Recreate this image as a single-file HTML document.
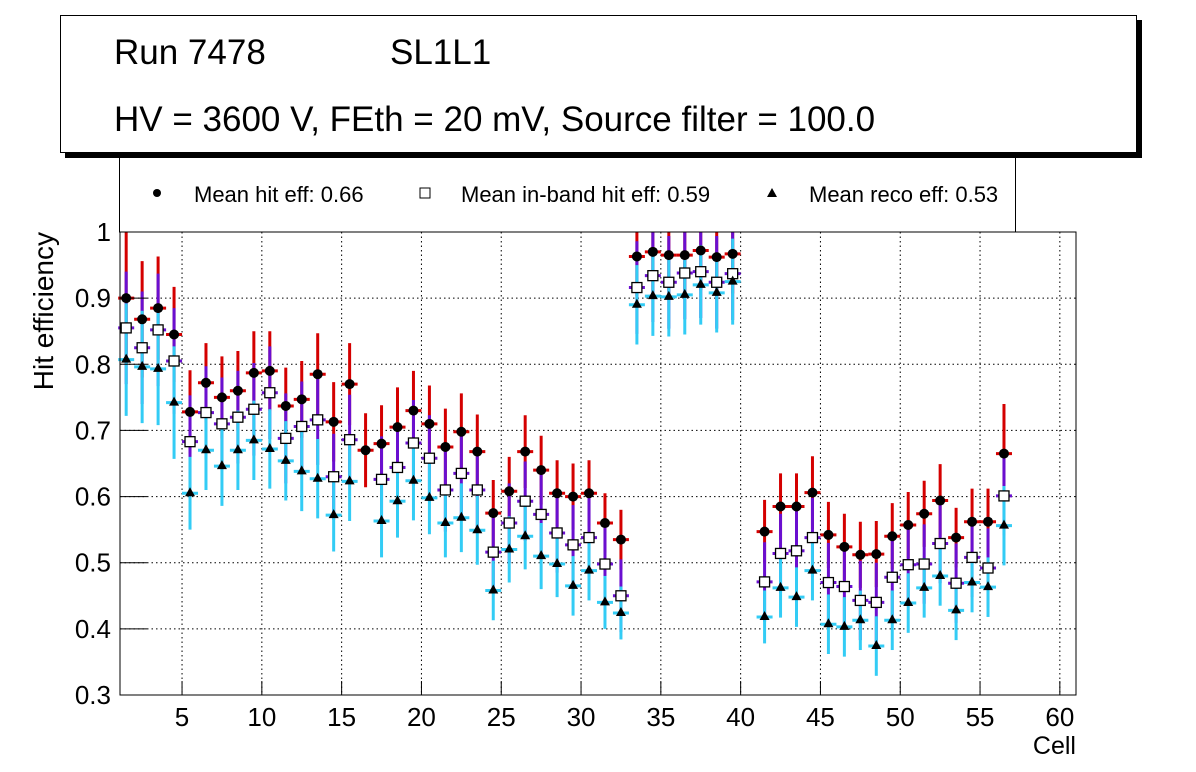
<!DOCTYPE html>
<html><head><meta charset="utf-8"><style>
body{margin:0;background:#fff;}
svg{display:block;font-family:"Liberation Sans",sans-serif;}
</style></head><body>
<svg id="c" width="1196" height="772" viewBox="0 0 1196 772">
<rect x="0" y="0" width="1196" height="772" fill="#fff"/>
<g id="grid"></g>
<g id="series"></g>
<rect x="120" y="232" width="956" height="463" fill="none" stroke="#000" stroke-width="1"/>
<g id="axes"></g>
<text x="1076" y="754" font-size="25" text-anchor="end">Cell</text>
<text transform="translate(53,232) rotate(-90)" font-size="28" text-anchor="end">Hit efficiency</text>
<g>
<rect x="119.5" y="150" width="896" height="82" fill="#fff" stroke="#000" stroke-width="1"/>
<circle cx="157" cy="193" r="4" fill="#000"/>
<text x="194" y="202" font-size="22">Mean hit  eff: 0.66</text>
<rect x="420" y="188" width="10" height="10" fill="#fff" stroke="#000"/>
<text x="461" y="202" font-size="22">Mean in-band hit eff: 0.59</text>
<polygon points="772,188 777,197 767,197" fill="#000"/>
<text x="809" y="202" font-size="22">Mean reco eff: 0.53</text>
</g>
<g>
<rect x="65" y="20" width="1077" height="138" fill="#000"/>
<rect x="60.5" y="15.5" width="1076" height="137" fill="#fff" stroke="#000" stroke-width="1"/>
<text x="114" y="64" font-size="35">Run 7478</text>
<text x="390" y="64" font-size="35">SL1L1</text>
<text x="114" y="131" font-size="35">HV = 3600 V, FEth = 20 mV, Source filter = 100.0</text>
</g>
</svg>
<script>
const cells=[1,2,3,4,5,6,7,8,9,10,11,12,13,14,15,16,17,18,19,20,21,22,23,24,25,26,27,28,29,30,31,32,33,34,35,36,37,38,39,41,42,43,44,45,46,47,48,49,50,51,52,53,54,55,56];
const hitEff=[.90,.868,.885,.845,.728,.772,.75,.76,.787,.79,.737,.747,.785,.713,.77,.67,.68,.705,.73,.71,.675,.698,.668,.575,.608,.668,.64,.605,.60,.605,.56,.535,.963,.97,.965,.965,.972,.962,.967,.547,.585,.585,.606,.542,.524,.512,.513,.54,.557,.574,.594,.538,.562,.562,.665];
const inbandEff=[.855,.825,.852,.805,.683,.727,.71,.72,.732,.757,.688,.706,.716,.63,.686,null,.626,.644,.681,.658,.61,.635,.61,.516,.56,.593,.573,.545,.527,.538,.498,.45,.916,.934,.924,.938,.94,.924,.937,.471,.514,.518,.538,.47,.464,.443,.44,.478,.497,.498,.529,.469,.508,.492,.601];
const recoEff=[.807,.796,.793,.742,.605,.67,.646,.67,.685,.672,.654,.638,.627,.572,.623,null,.563,.593,.624,.598,.56,.568,.549,.458,.52,.54,.51,.498,.465,.488,.44,.424,.89,.903,.902,.905,.92,.908,.925,.418,.462,.448,.488,.407,.403,.413,.374,.413,.439,.462,.48,.428,.47,.463,.556];
const hitErr=[.1,.088,.078,.072,.063,.06,.062,.06,.063,.06,.058,.058,.062,.06,.062,.056,.058,.06,.06,.058,.058,.058,.056,.05,.052,.055,.052,.05,.05,.05,.045,.045,.06,.06,.06,.06,.06,.06,.06,.048,.05,.05,.055,.05,.05,.05,.05,.05,.05,.05,.055,.045,.05,.05,.075];
const inbandErr=[.085,.085,.085,.08,.07,.07,.07,.07,.07,.07,.068,.068,.068,.065,.068,null,.065,.065,.065,.065,.063,.063,.063,.06,.06,.06,.06,.06,.06,.06,.058,.055,.07,.07,.07,.07,.07,.07,.07,.06,.06,.06,.06,.06,.06,.06,.06,.06,.06,.06,.06,.06,.06,.06,.06];
const recoErr=[.085,.085,.085,.085,.055,.06,.06,.06,.06,.06,.06,.06,.06,.055,.06,null,.055,.055,.06,.055,.052,.052,.052,.045,.05,.05,.05,.05,.045,.045,.04,.04,.06,.06,.06,.06,.06,.06,.065,.04,.045,.045,.045,.045,.045,.045,.045,.045,.045,.045,.045,.045,.045,.045,.06];
const xTicks=[5,10,15,20,25,30,35,40,45,50,55,60];
const yTicks=[0.3,0.4,0.5,0.6,0.7,0.8,0.9,1];
const yTickLabels=["0.3","0.4","0.5","0.6","0.7","0.8","0.9","1"];

const NS="http://www.w3.org/2000/svg";
const L=120,R=1076,T=232,B=695;
const X=v=>118.2+(v-1)*15.96;
const Y=v=>B-(v-0.3)/0.7*(B-T);
function mk(tag,attrs,parent){const e=document.createElementNS(NS,tag);for(const k in attrs)e.setAttribute(k,attrs[k]);parent.appendChild(e);return e;}
const grid=document.getElementById('grid'),axes=document.getElementById('axes'),ser=document.getElementById('series');
xTicks.forEach(t=>{const x=X(t);
 let g=mk('line',{x1:x,x2:x,y1:T,y2:B,stroke:'#000','stroke-dasharray':'1.5,3','stroke-width':1},grid);
 
 
 let tk=mk('line',{x1:x,x2:x,y1:B,y2:B-14,stroke:'#000'},axes);
 
 
 let tx=mk('text',{x:x,y:726,'font-size':26,'text-anchor':'middle'},axes);tx.textContent=t;
 
 
});
yTicks.forEach((t,i)=>{const y=Y(t);
 if(i>0&&i<yTicks.length-1){let g=mk('line',{x1:L,x2:R,y1:y,y2:y,stroke:'#000','stroke-dasharray':'1.5,3','stroke-width':1},grid);
 
 }
 let tk=mk('line',{x1:L,x2:L+27,y1:y,y2:y,stroke:'#000'},axes);
 
 
 let tx=mk('text',{x:111,y:y+9,'font-size':26,'text-anchor':'end'},axes);tx.textContent=yTickLabels[i];
 
 
});
const clipY=y=>Math.max(T,Math.min(B,y));
function errbars(vals,errs,color,name){
 cells.forEach((c,i)=>{const v=vals[i];if(v==null)return;const x=X(c+0.5),y=Y(v);
  let l=mk('line',{x1:x,x2:x,y1:clipY(Y(v+errs[i])),y2:clipY(Y(v-errs[i])),stroke:color,'stroke-width':3},ser);
  
  
  let h=mk('line',{x1:x-8,x2:x+8,y1:y,y2:y,stroke:color,'stroke-width':3},ser);
  
  
 });}
errbars(hitEff,hitErr,'#d40000','hit');
errbars(inbandEff,inbandErr,'#6a0fd0','inband');
errbars(recoEff,recoErr,'#33ccf5','reco');
cells.forEach((c,i)=>{const x=X(c+0.5);
 if(hitEff[i]!=null){let m=mk('circle',{cx:x,cy:Y(hitEff[i]),r:5,fill:'#000'},ser);
  
  }
 if(inbandEff[i]!=null){const y=Y(inbandEff[i]);let m=mk('rect',{x:x-5,y:y-5,width:10,height:10,fill:'#fff',stroke:'#000','stroke-width':1.3},ser);
  
  }
 if(recoEff[i]!=null){const y=Y(recoEff[i]);let m=mk('polygon',{points:`${x},${y-6} ${x+5},${y+3} ${x-5},${y+3}`,fill:'#000'},ser);
  
  }
});
</script>
</body></html>
